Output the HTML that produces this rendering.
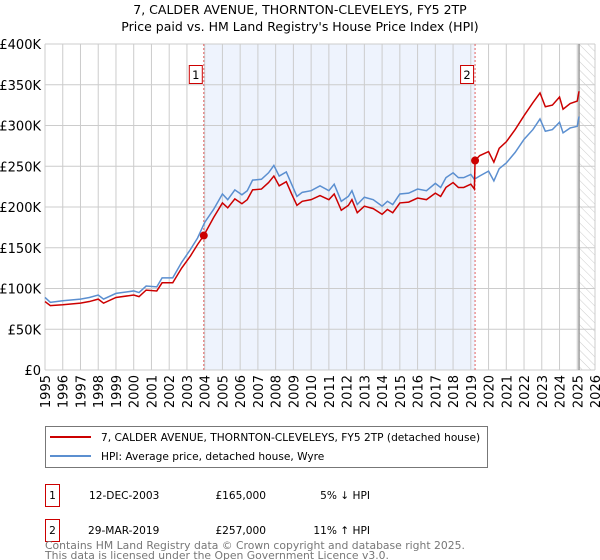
<!DOCTYPE html>
<html><head><meta charset="utf-8">
<style>
body{margin:0;background:#fff;font-family:"Liberation Sans","DejaVu Sans",sans-serif;}
#wrap{position:relative;width:600px;height:560px;overflow:hidden;}
svg text{font-family:"DejaVu Sans","Liberation Sans",sans-serif;}
</style></head>
<body>
<div id="wrap">
<svg id="chart" width="600" height="560">
<text x="300" y="14" text-anchor="middle" font-size="12.5" fill="#000">7, CALDER AVENUE, THORNTON-CLEVELEYS, FY5 2TP</text>
<text x="300" y="31" text-anchor="middle" font-size="12.5" fill="#000">Price paid vs. HM Land Registry's House Price Index (HPI)</text>
<defs><pattern id="hatch" width="6" height="6" patternUnits="userSpaceOnUse" patternTransform="rotate(-45)"><line x1="0" y1="0" x2="0" y2="6" stroke="#ccc" stroke-width="1"/></pattern></defs>
<g id="plot"></g>
<rect x="45.5" y="426.5" width="442" height="41" fill="#fff" stroke="#777"/>
<line x1="50" y1="437" x2="91" y2="437" stroke="#cc0000" stroke-width="2"/>
<text x="101" y="441" font-size="10.6">7, CALDER AVENUE, THORNTON-CLEVELEYS, FY5 2TP (detached house)</text>
<line x1="50" y1="456" x2="91" y2="456" stroke="#5b8fd0" stroke-width="2"/>
<text x="101" y="460" font-size="10.6">HPI: Average price, detached house, Wyre</text>
<g>
<rect x="45.5" y="484.5" width="14" height="22" fill="#fff" stroke="#cc0000"/>
<text x="52.5" y="499" font-size="10.6" text-anchor="middle">1</text>
<text x="89" y="499" font-size="10.6">12-DEC-2003</text>
<text x="266" y="499" font-size="10.6" text-anchor="end">£165,000</text>
<text x="370" y="499" font-size="10.6" text-anchor="end">5% ↓ HPI</text>
</g>
<g>
<rect x="45.5" y="519.5" width="14" height="22" fill="#fff" stroke="#cc0000"/>
<text x="52.5" y="534" font-size="10.6" text-anchor="middle">2</text>
<text x="88" y="534" font-size="10.6">29-MAR-2019</text>
<text x="266" y="534" font-size="10.6" text-anchor="end">£257,000</text>
<text x="370" y="534" font-size="10.6" text-anchor="end">11% ↑ HPI</text>
</g>
<text x="45" y="549" font-size="10.8" fill="#777">Contains HM Land Registry data © Crown copyright and database right 2025.</text>
<text x="45" y="559" font-size="10.8" fill="#777">This data is licensed under the Open Government Licence v3.0.</text>
</svg>
</div>
<script>
const years=[1995.0,1995.3,1996,1997,1997.5,1998,1998.3,1999,2000,2000.3,2000.7,2001.3,2001.6,2002.2,2002.7,2003.2,2003.6,2004,2004.5,2005,2005.3,2005.7,2006.1,2006.4,2006.7,2007.2,2007.6,2007.9,2008.2,2008.6,2008.9,2009.2,2009.5,2010,2010.5,2011,2011.3,2011.7,2012.1,2012.3,2012.6,2013,2013.5,2014,2014.3,2014.6,2015,2015.5,2016,2016.5,2017,2017.3,2017.6,2018,2018.3,2018.6,2019,2019.2,2019.5,2020,2020.3,2020.6,2021,2021.5,2022,2022.5,2022.9,2023.2,2023.6,2024,2024.2,2024.6,2025.0,2025.1];
const hpi=[89,83,85,87,89,92,87,94,97,95,103,102,113,113,132,148,162,181,197,216,209,221,215,220,233,234,242,251,238,243,228,213,218,220,226,220,228,207,213,220,203,212,209,201,207,203,216,217,222,220,229,224,236,242,236,236,240,234,238,244,232,247,254,267,283,295,308,293,295,304,291,297,299,311];
const priceYears=[1995.0,1995.3,1996,1997,1997.5,1998,1998.3,1999,2000,2000.3,2000.7,2001.3,2001.6,2002.2,2002.7,2003.2,2003.6,2003.95,2004.5,2005,2005.3,2005.7,2006.1,2006.4,2006.7,2007.2,2007.6,2007.9,2008.2,2008.6,2008.9,2009.2,2009.5,2010,2010.5,2011,2011.3,2011.7,2012.1,2012.3,2012.6,2013,2013.5,2014,2014.3,2014.6,2015,2015.5,2016,2016.5,2017,2017.3,2017.6,2018,2018.3,2018.6,2019,2019.2,2019.24,2019.5,2020,2020.3,2020.6,2021,2021.5,2022,2022.5,2022.9,2023.2,2023.6,2024,2024.2,2024.6,2025.0,2025.1];
const price=[84,79,80,82,84,87,82,89,92,90,98,97,107,107,125,140,154,165,187,205,199,210,204,209,221,222,230,238,226,231,216,202,207,209,214,209,216,196,202,209,193,201,198,191,197,193,205,206,211,209,217,213,224,230,224,224,228,222,257,263,268,255,272,280,295,312,328,340,323,325,335,320,327,330,342];
const sales=[{n:"1",year:2003.95,value:165},{n:"2",year:2019.24,value:257}];
const yTicks=[0,50,100,150,200,250,300,350,400];
const yTickLabels=["£0","£50K","£100K","£150K","£200K","£250K","£300K","£350K","£400K"];
const xTicks=[1995,1996,1997,1998,1999,2000,2001,2002,2003,2004,2005,2006,2007,2008,2009,2010,2011,2012,2013,2014,2015,2016,2017,2018,2019,2020,2021,2022,2023,2024,2025,2026];

const L=45,R=595,T=44,B=370,X0=1995,X1=2026,YMAX=400;
const sx=v=>L+(v-X0)/(X1-X0)*(R-L);
const sy=v=>B-v/YMAX*(B-T);
const NS="http://www.w3.org/2000/svg";
const g=document.getElementById('plot');
function mk(tag,attrs,parent){const e=document.createElementNS(NS,tag);for(const k in attrs)e.setAttribute(k,attrs[k]);(parent||g).appendChild(e);return e;}

let e=mk('rect',{x:sx(sales[0].year),y:T,width:sx(sales[1].year)-sx(sales[0].year),height:B-T,fill:'#eef3fd'});


e=mk('rect',{x:sx(2025.1),y:T,width:R-sx(2025.1),height:B-T,fill:'url(#hatch)'});



yTicks.forEach((v,i)=>{
  let l=mk('line',{x1:L,x2:R,y1:sy(v),y2:sy(v),stroke:'#cccccc','stroke-width':1});
  
  
  let t=mk('text',{x:L-4,y:sy(v)+5,'text-anchor':'end','font-size':13,fill:'#000'});
  t.textContent=yTickLabels[i];
  
  
});
xTicks.forEach(v=>{
  let l=mk('line',{x1:sx(v),x2:sx(v),y1:T,y2:B,stroke:'#cccccc','stroke-width':1});
  
  
  let t=mk('text',{x:0,y:0,'text-anchor':'end','font-size':13,fill:'#000',transform:`translate(${sx(v)+5},${B+5}) rotate(-90)`});
  t.textContent=v;
  
  
});
e=mk('line',{x1:sx(2025.1),x2:sx(2025.1),y1:T,y2:B,stroke:'#999','stroke-width':1.5});



sales.forEach(s=>{
  let l=mk('line',{x1:sx(s.year),x2:sx(s.year),y1:T,y2:B,stroke:'#e06060','stroke-width':1,'stroke-dasharray':'2,2'});
  
  
  let r=mk('rect',{x:sx(s.year)-14.5,y:65.5,width:13,height:18,fill:'#fff',stroke:'#cc0000'});
  
  
  let t=mk('text',{x:sx(s.year)-8,y:79,'text-anchor':'middle','font-size':11.5});
  t.textContent=s.n;
  
  
});

let p=mk('polyline',{points:years.map((y,i)=>sx(y)+','+sy(hpi[i])).join(' '),fill:'none',stroke:'#5b8fd0','stroke-width':1.5});


p=mk('polyline',{points:priceYears.map((y,i)=>sx(y)+','+sy(price[i])).join(' '),fill:'none',stroke:'#cc0000','stroke-width':1.5});


sales.forEach(s=>{
  let c=mk('circle',{cx:sx(s.year),cy:sy(s.value),r:4,fill:'#cc0000'});
  
  
});
</script>
</body></html>
